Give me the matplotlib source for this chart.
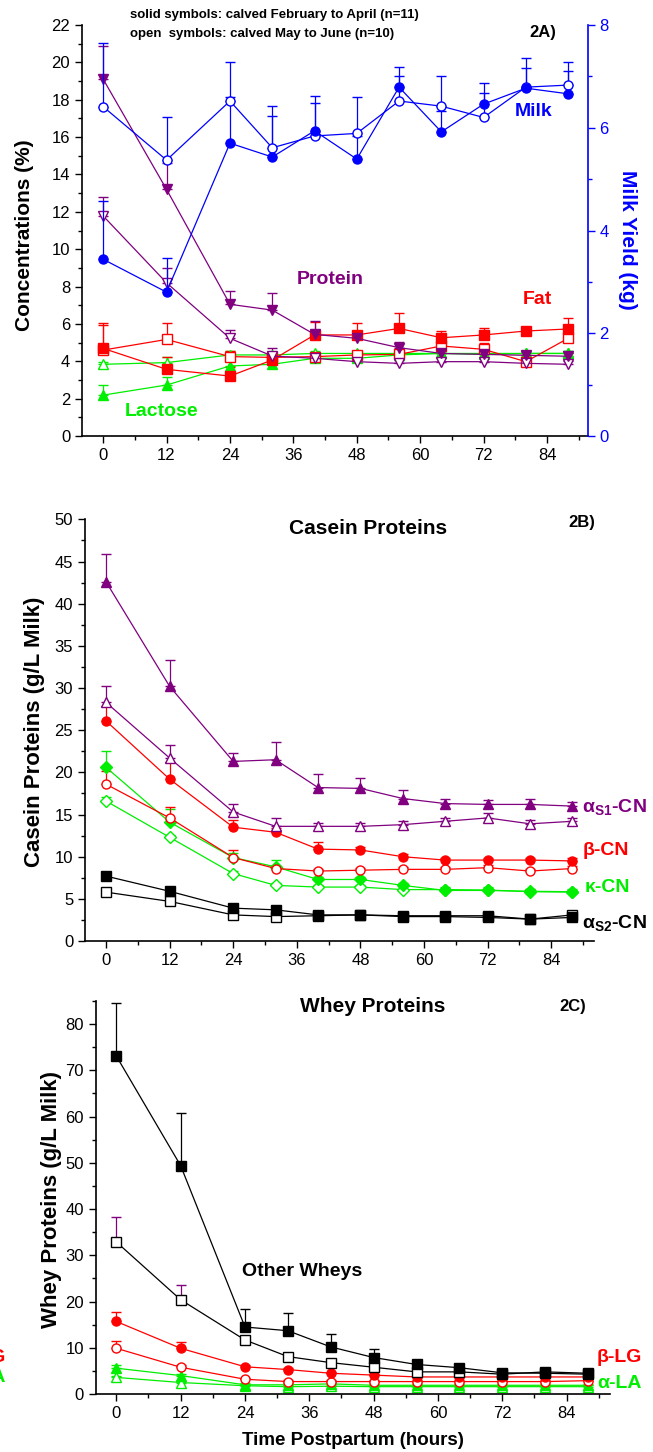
import numpy as np
import matplotlib
matplotlib.use("Agg")
import matplotlib.pyplot as plt
from matplotlib.ticker import MultipleLocator

plt.rcParams["font.family"] = ["Liberation Sans", "DejaVu Sans"]
plt.rcParams["mathtext.fontset"] = "custom"
plt.rcParams["mathtext.rm"] = "Liberation Sans"
plt.rcParams["mathtext.bf"] = "Liberation Sans:bold"

W, H = 653, 1452
BLUE, PURPLE, RED, GREEN, BLACK = "#0000ff", "#800080", "#ff0000", "#00ee00", "black"

hours = [0, 12, 24, 32, 40, 48, 56, 64, 72, 80, 88]

# --- panel A: concentrations (%) and milk yield (kg)
milk_solid = [3.44, 2.80, 5.70, 5.43, 5.94, 5.39, 6.79, 5.92, 6.46, 6.77, 6.66]
milk_solid_err = [1.13, 0.66, 0.90, 0.79, 0.67, 0.45, 0.40, 0.40, 0.42, 0.58, 0.45]
milk_open = [6.41, 5.37, 6.52, 5.61, 5.84, 5.89, 6.52, 6.42, 6.20, 6.79, 6.83]
milk_open_err = [1.23, 0.83, 0.75, 0.81, 0.64, 0.70, 0.49, 0.59, 0.47, 0.37, 0.44]

prot_solid = [19.1, 13.2, 7.05, 6.74, 5.44, 5.23, 4.73, 4.42, 4.37, 4.32, 4.27]
prot_solid_err = [1.8, 1.4, 0.73, 0.93, 0.70, 0.35, 0.32, 0.2, 0.2, 0.2, 0.2]
prot_open = [11.78, 8.2, 5.23, 4.28, 4.16, 3.98, 3.89, 3.98, 3.98, 3.89, 3.84]
prot_open_err = [1.03, 0.77, 0.44, 0.41, 0.2, 0.2, 0.2, 0.2, 0.2, 0.2, 0.2]

fat_solid = [4.69, 3.57, 3.21, 4.07, 5.41, 5.41, 5.76, 5.26, 5.41, 5.62, 5.73]
fat_solid_err = [1.25, 0.68, 0.5, 0.3, 0.71, 0.66, 0.84, 0.38, 0.37, 0.15, 0.59]
fat_open = [4.60, 5.17, 4.25, 4.21, 4.25, 4.34, 4.37, 4.82, 4.64, 3.98, 5.23]
fat_open_err = [1.47, 0.86, 0.3, 0.3, 0.2, 0.2, 0.2, 0.3, 0.35, 0.2, 0.2]

lac_solid = [2.19, 2.73, 3.75, 3.84, 4.16, 4.16, 4.34, 4.42, 4.37, 4.42, 4.42]
lac_solid_err = [0.54, 0.41, 0.4, 0.15, 0.15, 0.15, 0.15, 0.15, 0.15, 0.15, 0.15]
lac_open = [3.84, 3.93, 4.34, 4.34, 4.42, 4.42, 4.42, 4.42, 4.42, 4.42, 4.42]
lac_open_err = [0.1, 0.3, 0.2, 0.15, 0.15, 0.15, 0.15, 0.15, 0.15, 0.15, 0.15]

# --- panel B: caseins (g/L milk)
as1_solid = [42.6, 30.2, 21.3, 21.5, 18.2, 18.1, 16.9, 16.3, 16.2, 16.2, 16.0]
as1_solid_err = [3.3, 3.1, 1.0, 2.1, 1.6, 1.2, 1.0, 0.5, 0.5, 0.6, 0.5]
as1_open = [28.3, 21.7, 15.3, 13.6, 13.6, 13.6, 13.8, 14.2, 14.6, 13.9, 14.2]
as1_open_err = [2.0, 1.6, 1.0, 1.0, 0.4, 0.4, 0.4, 0.4, 0.6, 0.4, 0.4]
bcn_solid = [26.1, 19.2, 13.5, 12.9, 10.9, 10.8, 10.0, 9.6, 9.6, 9.6, 9.5]
bcn_solid_err = [1.8, 2.0, 0.9, 0.5, 0.9, 0.3, 0.3, 0.3, 0.3, 0.3, 0.3]
bcn_open = [18.6, 14.6, 9.9, 8.6, 8.3, 8.4, 8.5, 8.5, 8.7, 8.3, 8.6]
bcn_open_err = [1.6, 1.3, 0.9, 0.3, 0.3, 0.3, 0.3, 0.3, 0.3, 0.3, 0.3]
kcn_solid = [20.6, 14.1, 9.9, 8.8, 7.3, 7.3, 6.6, 6.0, 6.0, 5.9, 5.85]
kcn_solid_err = [1.9, 1.6, 0.5, 0.8, 0.3, 0.3, 0.3, 0.3, 0.3, 0.3, 0.3]
kcn_open = [16.6, 12.3, 8.0, 6.6, 6.4, 6.4, 6.1, 6.1, 6.05, 5.85, 5.8]
kcn_open_err = [0.5, 0.3, 0.3, 0.3, 0.3, 0.3, 0.3, 0.3, 0.3, 0.3, 0.3]
as2_solid = [7.7, 5.9, 3.9, 3.7, 3.1, 3.1, 2.9, 2.9, 2.8, 2.6, 2.8]
as2_solid_err = [0.3] * 11
as2_open = [5.8, 4.7, 3.1, 2.9, 3.0, 3.1, 3.0, 3.0, 3.0, 2.6, 3.1]
as2_open_err = [0.3] * 11

# --- panel C: whey proteins (g/L milk)
oth_solid = [73.1, 49.4, 14.5, 13.7, 10.2, 7.9, 6.4, 5.7, 4.6, 4.5, 4.3]
oth_solid_err = [11.4, 11.4, 3.8, 3.9, 2.7, 1.8, 0.7, 0.5, 0.4, 0.4, 0.4]
oth_open = [32.9, 20.4, 11.7, 8.1, 6.8, 5.8, 4.8, 4.8, 4.3, 4.8, 4.5]
oth_open_err = [5.4, 3.1, 0.9, 0.7, 0.6, 0.5, 0.5, 0.5, 0.5, 0.5, 0.5]
blg_solid = [15.7, 9.9, 5.9, 5.3, 4.5, 4.1, 3.7, 3.7, 3.7, 3.7, 3.7]
blg_solid_err = [2.1, 1.4, 0.3, 0.3, 0.3, 0.3, 0.3, 0.3, 0.3, 0.3, 0.3]
blg_open = [9.9, 5.8, 3.2, 2.7, 2.7, 2.7, 2.7, 2.7, 2.7, 2.7, 2.9]
blg_open_err = [1.6, 0.4, 0.3, 0.3, 0.3, 0.3, 0.3, 0.3, 0.3, 0.3, 0.3]
ala_solid = [5.6, 4.0, 2.0, 2.0, 2.2, 1.9, 1.9, 1.9, 1.9, 1.9, 1.9]
ala_solid_err = [0.6, 0.3, 0.3, 0.3, 0.3, 0.3, 0.3, 0.3, 0.3, 0.3, 0.3]
ala_open = [3.6, 2.5, 1.8, 1.6, 1.7, 1.6, 1.6, 1.6, 1.6, 1.6, 1.6]
ala_open_err = [0.3] * 11


def px(x, y):
    return x / W, 1 - y / H


def series(ax, y, err, color, marker, filled, ecolor=None, ms=6.5):
    ax.errorbar(hours, y, yerr=[np.zeros(len(err)), err], color=color,
                ecolor=ecolor or color, marker=marker, ms=ms, lw=0.9,
                mfc=color if filled else "white", mec=color, mew=1.0,
                elinewidth=0.9, capsize=3.5, capthick=0.9, clip_on=False)


def style(ax, ylim, ymaj, ymin):
    ax.set_ylim(*ylim)
    ax.xaxis.set_major_locator(MultipleLocator(12))
    ax.xaxis.set_minor_locator(MultipleLocator(6))
    ax.yaxis.set_major_locator(MultipleLocator(ymaj))
    ax.yaxis.set_minor_locator(MultipleLocator(ymin))
    ax.spines["top"].set_visible(False)
    ax.spines["right"].set_visible(False)
    for s in ("left", "bottom"):
        ax.spines[s].set_linewidth(1.2)
    ax.tick_params(which="both", direction="out", width=1.0, labelsize=12)
    ax.tick_params(which="major", length=5)
    ax.tick_params(which="minor", length=3)


fig = plt.figure(figsize=(W / 100, H / 100), dpi=100)

# ---------------- panel A
ax = fig.add_axes([0.1256, 0.6997, 0.7744, 0.2831])
ax.set_xlim(-4.0, 91.7)
style(ax, (0, 22), 2, 1)
ax2 = ax.twinx()
ax2.set_ylim(0, 8)
ax2.yaxis.set_major_locator(MultipleLocator(2))
ax2.yaxis.set_minor_locator(MultipleLocator(1))
for s in ("top", "left", "bottom"):
    ax2.spines[s].set_visible(False)
ax2.spines["right"].set_color(BLUE)
ax2.spines["right"].set_linewidth(1.2)
ax2.tick_params(which="both", direction="out", width=1.0, colors=BLUE, labelsize=12)
ax2.tick_params(which="major", length=5)
ax2.tick_params(which="minor", length=3)

series(ax, lac_open, lac_open_err, GREEN, "^", False)
series(ax, lac_solid, lac_solid_err, GREEN, "^", True)
series(ax, fat_open, fat_open_err, RED, "s", False)
series(ax, fat_solid, fat_solid_err, RED, "s", True)
series(ax, prot_open, prot_open_err, PURPLE, "v", False)
series(ax, prot_solid, prot_solid_err, PURPLE, "v", True)
series(ax2, milk_open, milk_open_err, BLUE, "o", False)
series(ax2, milk_solid, milk_solid_err, BLUE, "o", True)

fig.text(*px(130, 15), "solid symbols: calved February to April (n=11)",
         fontsize=9.5, fontweight="bold", va="center")
fig.text(*px(130, 34), "open  symbols: calved May to June (n=10)",
         fontsize=9.5, fontweight="bold", va="center")
fig.text(*px(543, 33), "2A)", fontsize=12, fontweight="bold", ha="center", va="center")
fig.text(*px(534, 112), "Milk", fontsize=14, fontweight="bold", color=BLUE,
         ha="center", va="center")
fig.text(*px(330, 280), "Protein", fontsize=14, fontweight="bold", color=PURPLE,
         ha="center", va="center")
fig.text(*px(537, 300), "Fat", fontsize=14, fontweight="bold", color=RED,
         ha="center", va="center")
fig.text(*px(162, 411), "Lactose", fontsize=14, fontweight="bold", color=GREEN,
         ha="center", va="center")
fig.text(*px(25, 235), "Concentrations (%)", fontsize=15, fontweight="bold",
         rotation=90, ha="center", va="center")
fig.text(*px(628, 240), "Milk Yield (kg)", fontsize=15, fontweight="bold",
         color=BLUE, rotation=270, ha="center", va="center")

# ---------------- panel B
ax = fig.add_axes([0.1302, 0.3519, 0.7789, 0.2904])
ax.set_xlim(-3.96, 92)
style(ax, (0, 50), 5, 2.5)
series(ax, as2_open, as2_open_err, BLACK, "s", False)
series(ax, as2_solid, as2_solid_err, BLACK, "s", True)
series(ax, kcn_open, kcn_open_err, GREEN, "D", False, ms=6)
series(ax, kcn_solid, kcn_solid_err, GREEN, "D", True, ms=6)
series(ax, bcn_open, bcn_open_err, RED, "o", False)
series(ax, bcn_solid, bcn_solid_err, RED, "o", True)
series(ax, as1_open, as1_open_err, PURPLE, "^", False)
series(ax, as1_solid, as1_solid_err, PURPLE, "^", True)

fig.text(*px(368, 528), "Casein Proteins", fontsize=15, fontweight="bold",
         ha="center", va="center")
fig.text(*px(582, 523), "2B)", fontsize=12, fontweight="bold", ha="center", va="center")
fig.text(*px(582, 808), r"α$_{\mathbf{S1}}$-CN", fontsize=14, fontweight="bold",
         color=PURPLE, va="center")
fig.text(*px(583, 851), "β-CN", fontsize=14, fontweight="bold", color=RED, va="center")
fig.text(*px(585, 887), "κ-CN", fontsize=14, fontweight="bold", color=GREEN, va="center")
fig.text(*px(582, 924), r"α$_{\mathbf{S2}}$-CN", fontsize=14, fontweight="bold",
         color=BLACK, va="center")
fig.text(*px(35, 732), "Casein Proteins (g/L Milk)", fontsize=16, fontweight="bold",
         rotation=90, ha="center", va="center")

# ---------------- panel C
ax = fig.add_axes([0.1466, 0.0399, 0.7876, 0.2707])
ax.set_xlim(-3.84, 92.1)
style(ax, (0, 85), 10, 5)
series(ax, ala_open, ala_open_err, GREEN, "^", False)
series(ax, ala_solid, ala_solid_err, GREEN, "^", True)
series(ax, blg_open, blg_open_err, RED, "o", False)
series(ax, blg_solid, blg_solid_err, RED, "o", True)
series(ax, oth_open, oth_open_err, BLACK, "s", False, ecolor=PURPLE)
series(ax, oth_solid, oth_solid_err, BLACK, "s", True)
ax.set_xlabel("Time Postpartum (hours)", fontsize=13.5, fontweight="bold", labelpad=8)

fig.text(*px(373, 1007), "Whey Proteins", fontsize=15, fontweight="bold",
         ha="center", va="center")
fig.text(*px(573, 1007), "2C)", fontsize=12, fontweight="bold", ha="center", va="center")
fig.text(*px(302, 1271), "Other Wheys", fontsize=14, fontweight="bold",
         ha="center", va="center")
fig.text(*px(597, 1358), "β-LG", fontsize=14, fontweight="bold", color=RED, va="center")
fig.text(*px(597, 1383), "α-LA", fontsize=14, fontweight="bold", color=GREEN, va="center")
# the reference also shows these two labels cut off at the left page edge
fig.text(*px(6, 1357), "β-LG", fontsize=14, fontweight="bold", color=RED,
         ha="right", va="center")
fig.text(*px(6, 1378), "α-LA", fontsize=14, fontweight="bold", color=GREEN,
         ha="right", va="center")
fig.text(*px(52, 1200), "Whey Proteins (g/L Milk)", fontsize=16, fontweight="bold",
         rotation=90, ha="center", va="center")

fig.savefig("out.png", dpi=100)
